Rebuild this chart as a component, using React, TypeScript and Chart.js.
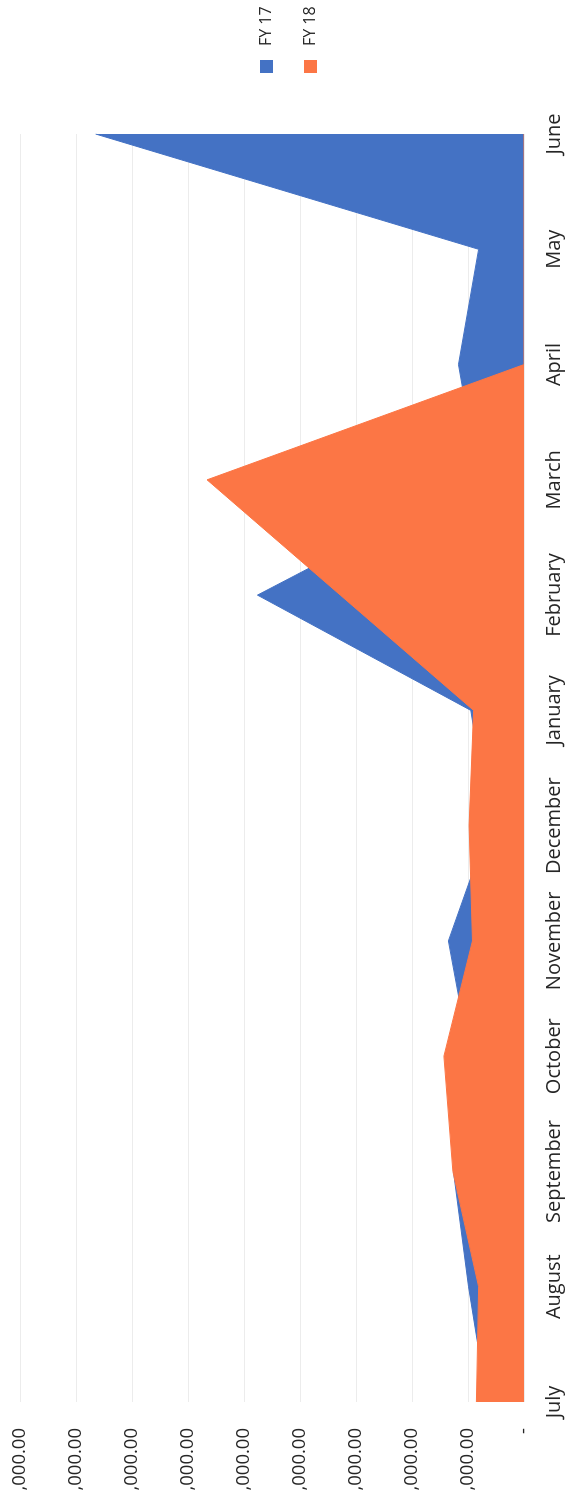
import React, { useEffect, useRef } from "react";
import { Chart, registerables } from "chart.js";

Chart.register(...registerables);

// Monthly totals, July through June
const MONTHS = [
  "July", "August", "September", "October", "November", "December",
  "January", "February", "March", "April", "May", "June",
];
const FY17 = [6600, 9900, 12600, 9700, 13500, 6200, 9500, 47600, 8100, 11700, 8100, 76500];
const FY18 = [8500, 8100, 12700, 14300, 9200, 9800, 9000, 32800, 56600, 0, 0, 0];
const SERIES_NAMES = ["FY 17", "FY 18"];
const SERIES_COLORS = ["#4472C4", "#FC7645"];
const VALUE_MAX = 90000;
const VALUE_STEP = 10000;
// Only the tail of each value label fits on the sheet
const VALUE_TAIL = ",000.00";
const ZERO_LABEL = "-";

// Chart is laid out landscape, then turned a quarter-turn counter-clockwise
const CHART_W = 1507;
const CHART_H = 570;

const FONT = "'Open Sans', 'DejaVu Sans', sans-serif";

// Vertical legend at the far end of the chart
const sideLegend = {
  id: "sideLegend",
  afterDraw(chart: any) {
    const ctx = chart.ctx as CanvasRenderingContext2D;
    ctx.save();
    ctx.font = `16px ${FONT}`;
    ctx.textBaseline = "middle";
    ctx.textAlign = "left";
    chart.data.datasets.forEach((ds: any, i: number) => {
      const cy = 266 + i * 44;
      ctx.fillStyle = ds.backgroundColor;
      ctx.fillRect(1434, cy - 6, 13, 13);
      ctx.fillStyle = "#262626";
      ctx.fillText(ds.label, 1461, cy);
    });
    ctx.restore();
  },
};

export default function App() {
  const canvasRef = useRef<HTMLCanvasElement | null>(null);

  useEffect(() => {
    const canvas = canvasRef.current;
    if (!canvas) return;
    const chart = new Chart(canvas, {
      type: "line",
      data: {
        labels: MONTHS,
        datasets: [
          {
            label: SERIES_NAMES[0],
            data: FY17,
            backgroundColor: SERIES_COLORS[0],
            borderColor: SERIES_COLORS[0],
            borderWidth: 1,
            fill: "origin",
            pointRadius: 0,
            tension: 0,
            order: 2,
          },
          {
            label: SERIES_NAMES[1],
            data: FY18,
            backgroundColor: SERIES_COLORS[1],
            borderColor: SERIES_COLORS[1],
            borderWidth: 1,
            fill: "origin",
            pointRadius: 0,
            tension: 0,
            order: 1,
          },
        ],
      },
      options: {
        animation: false,
        responsive: false,
        devicePixelRatio: 1,
        layout: { padding: { top: 20, right: 134, left: 0, bottom: 0 } },
        plugins: {
          legend: { display: false },
          tooltip: { enabled: false },
        },
        scales: {
          x: {
            type: "category",
            offset: false,
            grid: { display: false },
            border: { display: false },
            ticks: {
              autoSkip: false,
              maxRotation: 0,
              minRotation: 0,
              padding: 10,
              color: "#262626",
              font: { family: FONT, size: 20 },
            },
            afterFit: (scale: any) => {
              scale.height = 46;
            },
          },
          y: {
            min: 0,
            max: VALUE_MAX,
            ticks: {
              stepSize: VALUE_STEP,
              padding: 26,
              color: "#262626",
              font: { family: FONT, size: 18.5 },
              callback: (v: any) => (Number(v) === 0 ? ZERO_LABEL : VALUE_TAIL),
            },
            grid: { color: "#ececec", lineWidth: 1, drawTicks: false },
            border: { display: false },
            afterFit: (scale: any) => {
              scale.width = 105;
              scale.paddingTop = 0;
              scale.paddingBottom = 0;
            },
          },
        },
      },
      plugins: [sideLegend],
    });
    return () => chart.destroy();
  }, []);

  return (
    <div
      style={{
        position: "fixed",
        left: 0,
        top: 0,
        width: CHART_H,
        height: CHART_W,
        overflow: "hidden",
        background: "#ffffff",
      }}
    >
      <canvas
        ref={canvasRef}
        width={CHART_W}
        height={CHART_H}
        style={{
          position: "absolute",
          left: 0,
          top: 0,
          width: CHART_W,
          height: CHART_H,
          transformOrigin: "0 0",
          transform: `translateY(${CHART_W}px) rotate(-90deg)`,
        }}
      />
    </div>
  );
}
